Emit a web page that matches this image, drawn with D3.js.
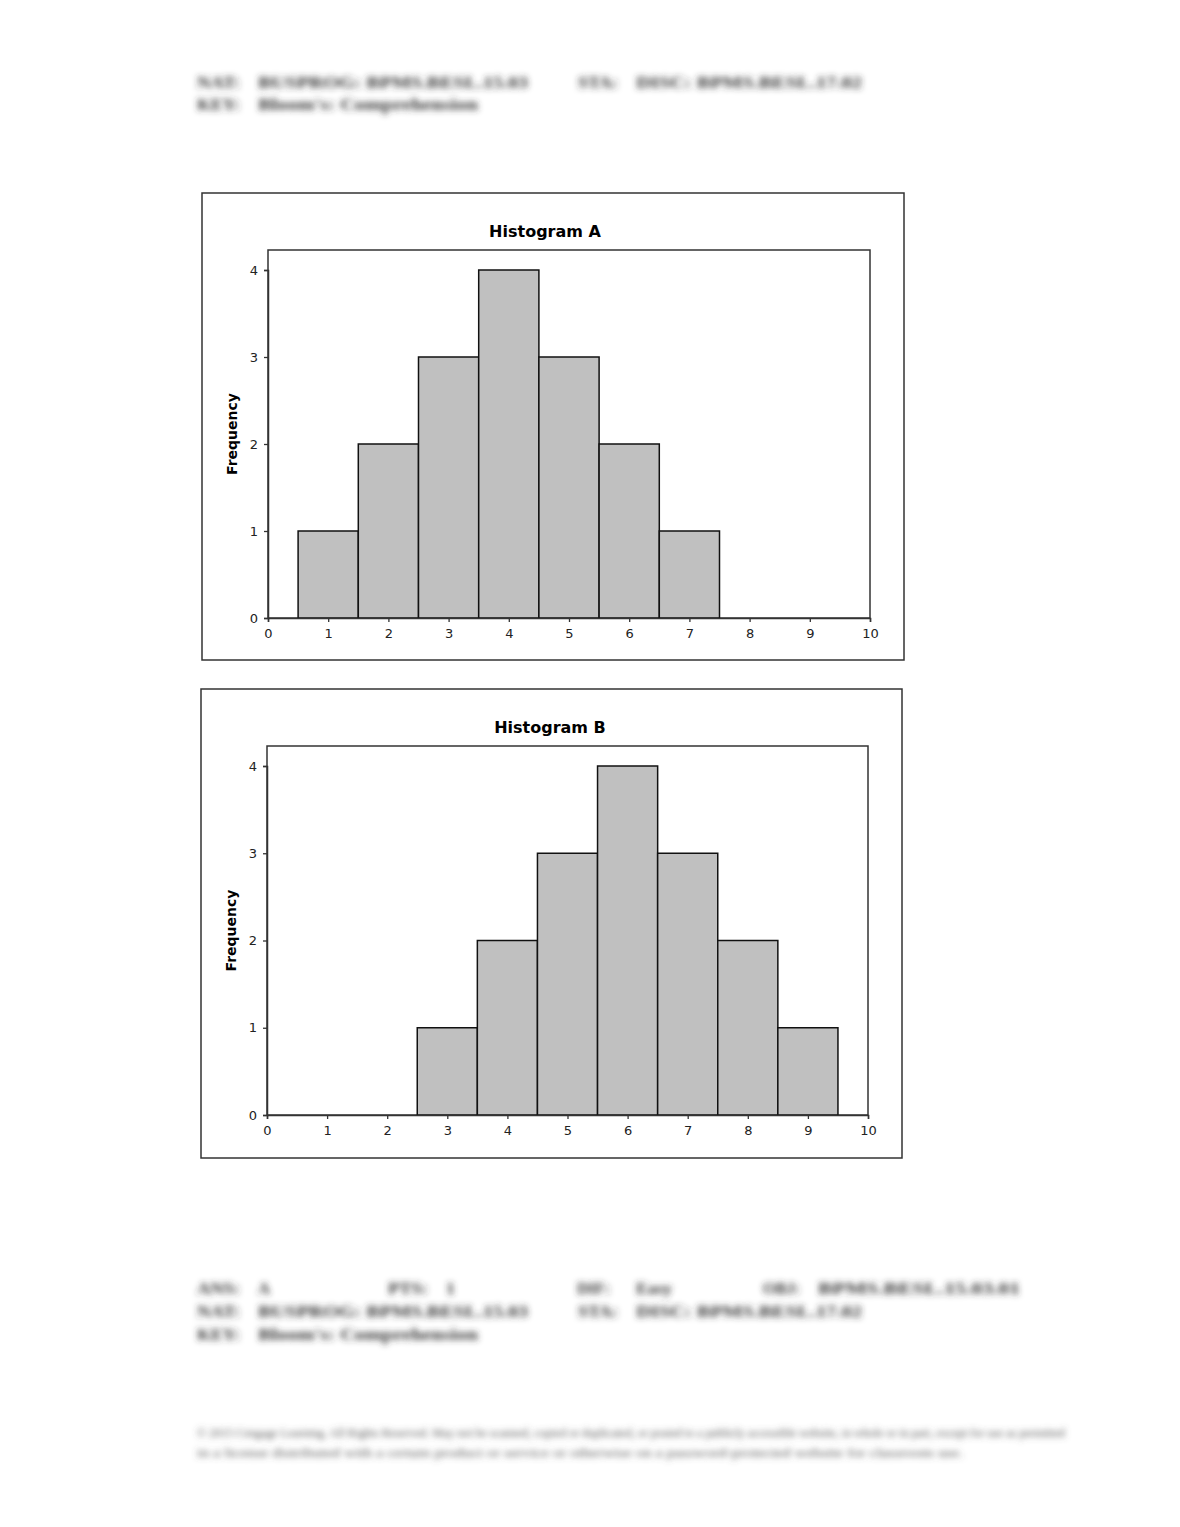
<!DOCTYPE html>
<html>
<head>
<meta charset="utf-8">
<script src="https://cdn.jsdelivr.net/npm/d3@7"></script>
<style>
  body { margin: 0; background: #fff; }
  svg { display: block; }
</style>
</head>
<body>
<svg id="page" width="1180" height="1527"></svg>
<script>
// bin centres and frequencies
const binsA = [1, 2, 3, 4, 5, 6, 7];
const freqA = [1, 2, 3, 4, 3, 2, 1];
const binsB = [3, 4, 5, 6, 7, 8, 9];
const freqB = [1, 2, 3, 4, 3, 2, 1];
const xTicks = [0, 1, 2, 3, 4, 5, 6, 7, 8, 9, 10];
const yTicks = [0, 1, 2, 3, 4];
const titles = ["Histogram A", "Histogram B"];
const yLabel = "Frequency";

// answer-key text around the charts (blurred in the source)
const natLine = ["NAT:", "BUSPROG: BPMS.BESL.15.03", "STA:", "DISC: BPMS.BESL.17.02"];
const keyLine = ["KEY:", "Bloom's: Comprehension"];
const ansLine = ["ANS:", "A", "PTS:", "1", "DIF:", "Easy", "OBJ:", "BPMS.BESL.15.03.01"];
const copyright = [
  "© 2015 Cengage Learning. All Rights Reserved. May not be scanned, copied or duplicated, or posted to a publicly accessible website, in whole or in part, except for use as permitted",
  "in a license distributed with a certain product or service or otherwise on a password-protected website for classroom use."
];

// where each column of those lines sits: [x, width]
const natCols = [[197, 43], [258, 270], [578, 40], [636, 226]];
const keyCols = [[197, 43], [258, 220]];
const ansCols = [[197, 43], [258, 12], [388, 40], [446, 9], [577, 33], [636, 36], [763, 37], [818, 202]];

const svg = d3.select("#page");

svg.append("defs").append("filter")
  .attr("id", "blur")
  .attr("x", "-5%").attr("y", "-60%").attr("width", "110%").attr("height", "220%")
  .append("feGaussianBlur")
  .attr("stdDeviation", 3);

const blurText = svg.append("g").attr("filter", "url(#blur)")
  .style("font-family", "'Liberation Serif', serif")
  .style("font-weight", "bold")
  .style("font-size", "16px")
  .style("fill", "#333");

function keyRow(words, cols, y) {
  words.forEach((t, j) => {
    blurText.append("text")
      .attr("x", cols[j][0])
      .attr("y", y)
      .attr("textLength", cols[j][1])
      .attr("lengthAdjust", "spacingAndGlyphs")
      .text(t);
  });
}

keyRow(natLine, natCols, 88);
keyRow(keyLine, keyCols, 110);
keyRow(ansLine, ansCols, 1294);
keyRow(natLine, natCols, 1317);
keyRow(keyLine, keyCols, 1340);

const foot = svg.append("g").attr("filter", "url(#blur)")
  .style("font-family", "'Liberation Serif', serif")
  .style("font-size", "12px")
  .style("fill", "#555");
copyright.forEach((t, i) => {
  foot.append("text")
    .attr("x", 197)
    .attr("y", 1437 + i * 20)
    .attr("textLength", i === 0 ? 868 : 766)
    .attr("lengthAdjust", "spacingAndGlyphs")
    .text(t);
});

function histogram(bins, freq, title, box, plot) {
  const g = svg.append("g");

  g.append("rect")
    .attr("x", box.x).attr("y", box.y)
    .attr("width", box.w).attr("height", box.h)
    .attr("fill", "#fff")
    .attr("stroke", "#333")
    .attr("stroke-width", 1.5);

  const x = d3.scaleLinear().domain([0, 10]).range([plot.left, plot.right]);
  const y = d3.scaleLinear().domain([0, 4]).range([plot.bottom, plot.y4]);

  // plot frame
  g.append("rect")
    .attr("x", plot.left).attr("y", plot.top)
    .attr("width", plot.right - plot.left)
    .attr("height", plot.bottom - plot.top)
    .attr("fill", "none")
    .attr("stroke", "#333")
    .attr("stroke-width", 1.5);

  g.append("g")
    .selectAll("rect")
    .data(bins)
    .enter()
      .append("rect")
      .attr("x", (d) => x(d - 0.5))
      .attr("y", (d, i) => y(freq[i]))
      .attr("width", (d) => x(d + 0.5) - x(d - 0.5))
      .attr("height", (d, i) => y(0) - y(freq[i]))
      .attr("fill", "#c0c0c0")
      .attr("stroke", "#111")
      .attr("stroke-width", 1.5);

  const xAxis = d3.axisBottom(x).tickValues(xTicks).tickFormat(d3.format("d")).tickSize(4).tickPadding(7);
  const yAxis = d3.axisLeft(y).tickValues(yTicks).tickFormat(d3.format("d")).tickSize(4).tickPadding(6);

  [g.append("g").attr("transform", `translate(0, ${plot.bottom})`).call(xAxis),
   g.append("g").attr("transform", `translate(${plot.left}, 0)`).call(yAxis)]
    .forEach((ax) => {
      ax.select(".domain").attr("stroke", "#333").attr("stroke-width", 1.5);
      ax.selectAll(".tick line").attr("stroke", "#333").attr("stroke-width", 1.3);
      ax.selectAll(".tick text")
        .attr("fill", "#222")
        .style("font-family", "'DejaVu Sans', sans-serif")
        .style("font-size", "13px");
    });

  g.append("text")
    .attr("x", plot.titleX)
    .attr("y", box.y + 44)
    .attr("text-anchor", "middle")
    .style("font-family", "'DejaVu Sans', sans-serif")
    .style("font-size", "16px")
    .style("font-weight", "bold")
    .text(title);

  g.append("text")
    .attr("transform", `translate(${box.x + 35}, ${(plot.top + plot.bottom) / 2}) rotate(-90)`)
    .attr("text-anchor", "middle")
    .style("font-family", "'DejaVu Sans', sans-serif")
    .style("font-size", "14px")
    .style("font-weight", "bold")
    .text(yLabel);
}

histogram(binsA, freqA, titles[0],
  { x: 202, y: 193, w: 702, h: 467 },
  { left: 268, right: 870, top: 250, bottom: 618, y4: 270, titleX: 545 });

histogram(binsB, freqB, titles[1],
  { x: 201, y: 689, w: 701, h: 469 },
  { left: 267, right: 868, top: 746, bottom: 1115, y4: 766, titleX: 550 });
</script>
</body>
</html>
